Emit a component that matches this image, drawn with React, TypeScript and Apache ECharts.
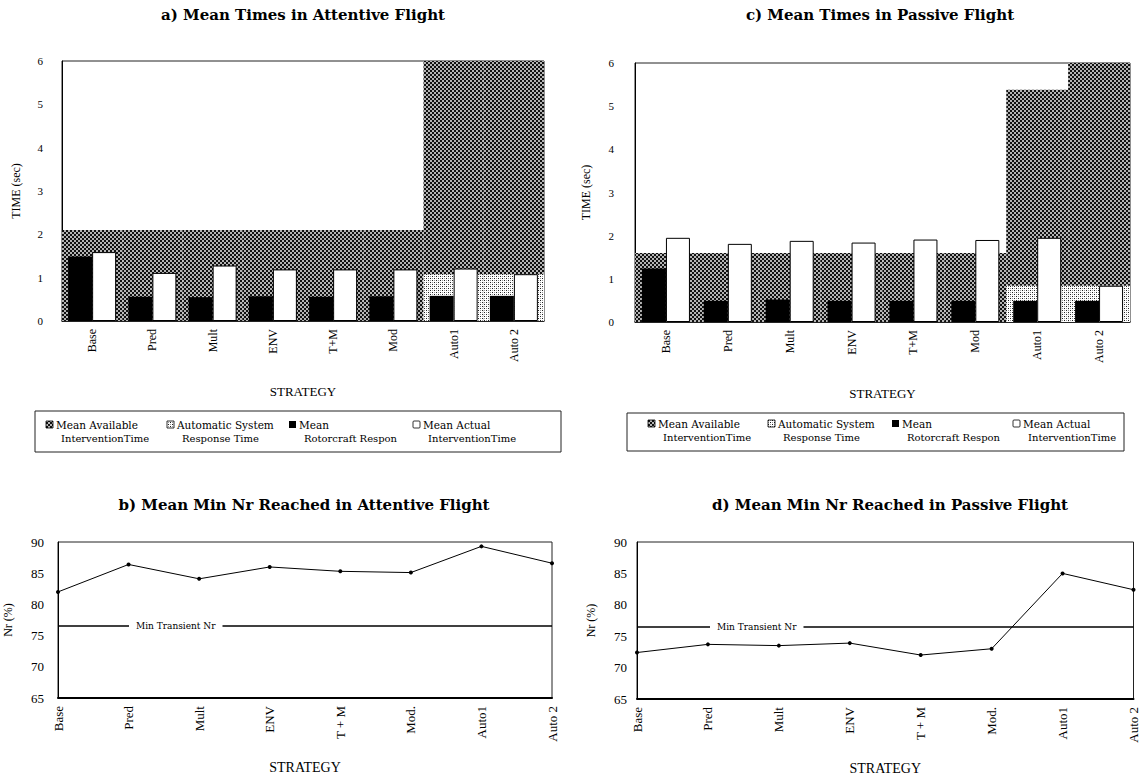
import React, { useEffect, useRef } from 'react';
import * as echarts from 'echarts';

// ---------- data ----------
const STRATEGIES_TOP = ['Base', 'Pred', 'Mult', 'ENV', 'T+M', 'Mod', 'Auto1', 'Auto 2'];
const STRATEGIES_BOTTOM = ['Base', 'Pred', 'Mult', 'ENV', 'T + M', 'Mod.', 'Auto1', 'Auto 2'];

// a) Mean Times in Attentive Flight (sec)
const A_AVAILABLE = [2.1, 2.1, 2.1, 2.1, 2.1, 2.1, 6, 6];
const A_AUTO = [null, null, null, null, null, null, 1.08, 1.08];
const A_ROTOR = [1.49, 0.56, 0.55, 0.57, 0.56, 0.57, 0.58, 0.58];
const A_ACTUAL = [1.59, 1.11, 1.28, 1.19, 1.19, 1.19, 1.21, 1.08];

// c) Mean Times in Passive Flight (sec)
const C_AVAILABLE = [1.6, 1.6, 1.6, 1.6, 1.6, 1.6, 5.38, 6];
const C_AUTO = [null, null, null, null, null, null, 0.84, 0.84];
const C_ROTOR = [1.24, 0.49, 0.52, 0.49, 0.49, 0.49, 0.49, 0.49];
const C_ACTUAL = [1.95, 1.81, 1.88, 1.84, 1.91, 1.9, 1.95, 0.84];

// b) / d) Mean Min Nr reached (%)
const B_NR = [82.0, 86.4, 84.1, 86.0, 85.3, 85.1, 89.3, 86.6];
const D_NR = [72.4, 73.7, 73.5, 73.9, 72.0, 73.0, 85.0, 82.4];
const MIN_TRANSIENT_NR = 76.5;

const TITLES = [
  'a) Mean Times in Attentive Flight',
  'c) Mean Times in Passive Flight',
  'b) Mean Min Nr Reached in Attentive Flight',
  'd) Mean Min Nr Reached in Passive Flight',
];
const LEGEND_LINE1 = ['Mean Available', 'Automatic System', 'Mean', 'Mean Actual'];
const LEGEND_LINE2 = ['InterventionTime', 'Response Time', 'Rotorcraft Respon', 'InterventionTime'];
const X_NAME = 'STRATEGY';
const Y_NAME_TIME = 'TIME (sec)';
const Y_NAME_NR = 'Nr (%)';
const MIN_LABEL = 'Min Transient Nr';

const SERIF = '"Liberation Serif", "Times New Roman", serif';
const DJS = '"DejaVu Serif", serif';

function makeTile(kind: 'dark' | 'light'): HTMLCanvasElement {
  const c = document.createElement('canvas');
  c.width = 4;
  c.height = 4;
  const ctx = c.getContext('2d')!;
  ctx.fillStyle = '#ffffff';
  ctx.fillRect(0, 0, 4, 4);
  if (kind === 'dark') {
    ctx.fillStyle = '#b4b4b4';
    ctx.fillRect(0, 0, 4, 4);
    ctx.fillStyle = '#111111';
    ctx.fillRect(0, 0, 2, 2);
    ctx.fillRect(2, 2, 2, 2);
  } else {
    ctx.fillStyle = '#222222';
    ctx.fillRect(0, 0, 1, 1);
    ctx.fillRect(2, 2, 1, 1);
    ctx.fillStyle = '#9a9a9a';
    ctx.fillRect(2, 0, 1, 1);
    ctx.fillRect(0, 2, 1, 1);
  }
  return c;
}

export default function App() {
  const ref = useRef<HTMLDivElement>(null);

  useEffect(() => {
    if (!ref.current) return;
    const chart = echarts.init(ref.current, null, { renderer: 'svg' });
    const dark = { image: makeTile('dark'), repeat: 'repeat' };
    const light = { image: makeTile('light'), repeat: 'repeat' };

    const grids = [
      { left: 62, top: 61, width: 482, height: 260 },
      { left: 635, top: 63, width: 495, height: 259 },
      { left: 58, top: 542, width: 494, height: 156 },
      { left: 637, top: 542, width: 505, height: 157 },
    ].map((g) => ({ ...g, show: true, borderColor: '#222', borderWidth: 1, backgroundColor: 'transparent' }));

    const catAxis = (gridIndex: number, data: string[], opts: any = {}) => ({
      type: 'category',
      gridIndex,
      data,
      position: 'bottom',
      axisLine: { show: true, lineStyle: { color: '#000', width: 1.5 } },
      axisTick: { show: false },
      axisLabel: { rotate: 90, color: '#000', fontFamily: SERIF, fontSize: 12, margin: 8, interval: 0 },
      name: X_NAME,
      nameLocation: 'middle',
      nameTextStyle: { color: '#000', fontFamily: SERIF, fontSize: 13 },
      ...opts,
    });
    const hiddenAxis = (gridIndex: number, data: string[]) => ({
      type: 'category', gridIndex, data, position: 'bottom', show: false,
    });
    const valAxis = (gridIndex: number, min: number, max: number, interval: number, name: string, nameGap: number, fontSize: number, margin: number) => ({
      type: 'value',
      gridIndex,
      min,
      max,
      interval,
      name,
      nameLocation: 'middle',
      nameGap,
      nameTextStyle: { color: '#000', fontFamily: SERIF, fontSize: 12 },
      axisLine: { show: true, lineStyle: { color: '#000', width: 1 } },
      axisTick: { show: false },
      splitLine: { show: false },
      axisLabel: { color: '#000', fontFamily: SERIF, fontSize, margin },
    });

    const barSet = (xBg: number, xFg: number, yIdx: number, avail: any[], auto: any[], rotor: number[], actual: number[]) => [
      {
        type: 'bar', name: LEGEND_LINE1[0], xAxisIndex: xBg, yAxisIndex: yIdx, data: avail,
        barWidth: '100%', barGap: '-100%', barCategoryGap: '0%', z: 1, silent: true,
        itemStyle: { color: dark },
      },
      {
        type: 'bar', name: LEGEND_LINE1[1], xAxisIndex: xBg, yAxisIndex: yIdx, data: auto,
        barWidth: '100%', barGap: '-100%', barCategoryGap: '0%', z: 2, silent: true,
        itemStyle: { color: light },
      },
      {
        type: 'bar', name: LEGEND_LINE1[2], xAxisIndex: xFg, yAxisIndex: yIdx, data: rotor,
        barWidth: 24, barGap: '0%', z: 3, silent: true,
        itemStyle: { color: '#000' },
      },
      {
        type: 'bar', name: LEGEND_LINE1[3], xAxisIndex: xFg, yAxisIndex: yIdx, data: actual,
        barWidth: 24, barGap: '0%', z: 3, silent: true,
        itemStyle: { color: '#fff', borderColor: '#000', borderWidth: 1 },
      },
    ];

    const lineSeries = (xIdx: number, yIdx: number, data: number[], labelDist: number) => ({
      type: 'line', xAxisIndex: xIdx, yAxisIndex: yIdx, data,
      symbol: 'circle', symbolSize: 4, silent: true,
      lineStyle: { color: '#000', width: 1 },
      itemStyle: { color: '#000' },
      z: 3,
      markLine: {
        silent: true,
        symbol: 'none',
        animation: false,
        lineStyle: { color: '#000', width: 1.5, type: 'solid' },
        label: {
          show: true,
          position: 'insideStart',
          distance: [labelDist, 0],
          formatter: MIN_LABEL,
          backgroundColor: '#fff',
          padding: [1, 7],
          color: '#000',
          fontFamily: DJS,
          fontSize: 9,
        },
        data: [{ yAxis: MIN_TRANSIENT_NR }],
      },
    });

    // legends as graphic
    const legendGroup = (box: number[], icons: number[], y1: number, y2: number) => {
      const children: any[] = [
        { type: 'rect', shape: { x: box[0], y: box[1], width: box[2] - box[0], height: box[3] - box[1] }, style: { fill: '#fff', stroke: '#222', lineWidth: 1 } },
      ];
      const fills = [dark, light, '#000', '#fff'];
      icons.forEach((ix, i) => {
        children.push({
          type: 'rect',
          shape: { x: ix, y: y1 - 4, width: 7, height: 7, r: i === 3 ? 1 : 0 },
          style: { fill: fills[i], stroke: i === 2 ? null : '#000', lineWidth: 0.8 },
        });
        children.push({ type: 'text', x: ix + 10, y: y1, style: { text: LEGEND_LINE1[i], fill: '#000', font: `10.5px ${DJS}`, textVerticalAlign: 'middle' } });
        children.push({ type: 'text', x: ix + 15, y: y2, style: { text: LEGEND_LINE2[i], fill: '#000', font: `10px ${DJS}`, textVerticalAlign: 'middle' } });
      });
      return { type: 'group', children };
    };

    const titleText = (t: string, x: number, y: number) => ({
      type: 'text', x, y,
      style: { text: t, fill: '#000', font: `bold 15px ${DJS}`, textAlign: 'center', textVerticalAlign: 'middle' },
    });

    const option: any = {
      animation: false,
      backgroundColor: '#fff',
      grid: grids,
      xAxis: [
        catAxis(0, STRATEGIES_TOP, { nameGap: 64 }),
        hiddenAxis(0, STRATEGIES_TOP),
        catAxis(1, STRATEGIES_TOP, { nameGap: 65 }),
        hiddenAxis(1, STRATEGIES_TOP),
        catAxis(2, STRATEGIES_BOTTOM, {
          boundaryGap: false, nameGap: 62,
          axisLine: { show: true, lineStyle: { color: '#000', width: 2 } },
          axisLabel: { rotate: 90, color: '#000', fontFamily: SERIF, fontSize: 13, margin: 8, interval: 0 },
          nameTextStyle: { color: '#000', fontFamily: SERIF, fontSize: 14 },
        }),
        catAxis(3, STRATEGIES_BOTTOM, {
          boundaryGap: false, nameGap: 62,
          axisLine: { show: true, lineStyle: { color: '#000', width: 2 } },
          axisLabel: { rotate: 90, color: '#000', fontFamily: SERIF, fontSize: 13, margin: 8, interval: 0 },
          nameTextStyle: { color: '#000', fontFamily: SERIF, fontSize: 14 },
        }),
      ],
      yAxis: [
        valAxis(0, 0, 6, 1, Y_NAME_TIME, 40, 11, 19),
        valAxis(1, 0, 6, 1, Y_NAME_TIME, 43, 11, 21),
        valAxis(2, 65, 90, 5, Y_NAME_NR, 44, 13, 14),
        valAxis(3, 65, 90, 5, Y_NAME_NR, 40, 13, 10),
      ],
      series: [
        ...barSet(0, 1, 0, A_AVAILABLE, A_AUTO, A_ROTOR, A_ACTUAL),
        ...barSet(2, 3, 1, C_AVAILABLE, C_AUTO, C_ROTOR, C_ACTUAL),
        lineSeries(4, 2, B_NR, 71),
        lineSeries(5, 3, D_NR, 73),
      ],
      graphic: [
        titleText(TITLES[0], 303, 15),
        titleText(TITLES[1], 880, 15),
        titleText(TITLES[2], 304, 505),
        titleText(TITLES[3], 890, 505),
        legendGroup([35, 411, 561, 452], [46, 167, 289, 413], 425, 438),
        legendGroup([627, 413, 1124, 451], [648, 768, 892, 1013], 424, 437),
      ],
    };

    chart.setOption(option);
    return () => chart.dispose();
  }, []);

  return (
    <div
      ref={ref}
      style={{ position: 'absolute', left: 0, top: 0, width: 1140, height: 776, background: '#fff', overflow: 'hidden' }}
    />
  );
}
